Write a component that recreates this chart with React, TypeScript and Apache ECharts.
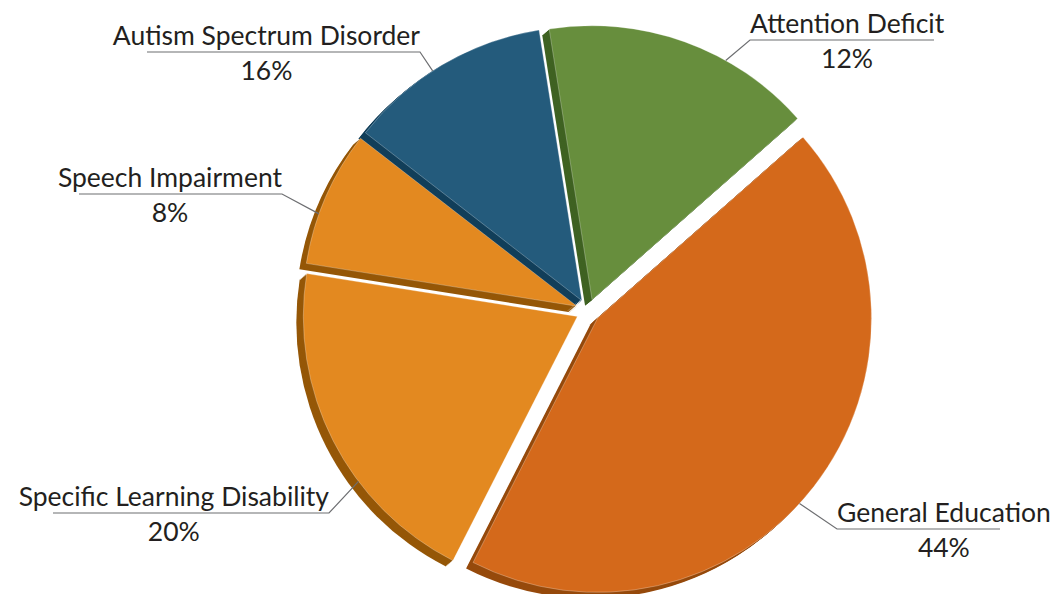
import React, { useEffect, useRef } from 'react';
import * as echarts from 'echarts';

// ---- data (clockwise from the top) ----
const categories = [
  'Attention Deficit',
  'General Education',
  'Specific Learning Disability',
  'Speech Impairment',
  'Autism Spectrum Disorder',
];
// wedge sizes as drawn in the picture (percent of the pie)
const sliceShares = [16, 44, 20, 8, 12];
// percentages printed in the labels
const labelPercents = ['12%', '44%', '20%', '8%', '16%'];

// ---- styles ----
const faceColors = ['#678E3D', '#D4691B', '#E38920', '#E38920', '#245B7C'];
const sideColors = ['#3F6222', '#964A0C', '#955707', '#955707', '#123F5A'];

// ---- layout ----
const CENTER = [588, 311];
const RADIUS = 274;
const EXPLODE = 12;
const START_ANGLE = 99;
const DEPTH = [-7, 6];
const DEPTH_STEPS = 6;
const FONT = 26.5;

// leader guides: angle (deg) on the wedge arc where the leader starts, bend point, end x of the rule
const guides = [
  { at: 60.8, bend: [750, 40], endX: 934 },
  { at: -42.5, bend: [837, 529], endX: 1000 },
  { at: 217, bend: [329, 513], endX: 53 },
  { at: 160.3, bend: [282, 194], endX: 79 },
  { at: 123, bend: [420, 52], endX: 147 },
];

const total = sliceShares.reduce((a, b) => a + b, 0);
const midAngles: number[] = [];
{
  let acc = 0;
  sliceShares.forEach((v) => {
    midAngles.push(START_ANGLE - (360 * (acc + v / 2)) / total);
    acc += v;
  });
}

function pieData(colors: string[] | null, border: boolean, selected: boolean) {
  return categories.map((name, i) => {
    const style: any = { color: colors ? colors[i] : 'rgba(0,0,0,0)' };
    if (border) {
      style.borderColor = 'rgba(255,255,255,0.35)';
      style.borderWidth = 0.8;
    } else {
      style.borderWidth = 0;
    }
    return {
      name,
      value: sliceShares[i],
      selected,
      itemStyle: style,
      select: { itemStyle: style },
    };
  });
}

export default function App() {
  const ref = useRef<HTMLDivElement>(null);

  useEffect(() => {
    if (!ref.current) return;
    const chart = echarts.init(ref.current, undefined, { renderer: 'svg' });

    const base = {
      type: 'pie',
      silent: true,
      selectedMode: 'multiple',
      selectedOffset: EXPLODE,
      startAngle: START_ANGLE,
      clockwise: true,
      radius: RADIUS,
      avoidLabelOverlap: false,
    };

    const shadowSeries: any[] = [];
    for (let k = DEPTH_STEPS; k >= 1; k--) {
      shadowSeries.push({
        ...base,
        z: 1,
        center: [CENTER[0] + (DEPTH[0] * k) / DEPTH_STEPS, CENTER[1] + (DEPTH[1] * k) / DEPTH_STEPS],
        label: { show: false },
        labelLine: { show: false },
        data: pieData(sideColors, false, true),
      });
    }

    const faceSeries = {
      ...base,
      z: 2,
      center: CENTER,
      label: { show: false },
      labelLine: { show: false },
      data: pieData(faceColors, true, true),
    };

    // invisible carrier of the labels and leader lines (not exploded, so positions are global)
    const labelSeries = {
      ...base,
      selectedMode: false,
      z: 3,
      center: CENTER,
      label: {
        show: true,
        position: 'outside',
        formatter: (p: any) => `{n|${p.name}}\n{p|${labelPercents[p.dataIndex]}}`,
        rich: {
          n: { fontFamily: 'Lato', fontSize: FONT, color: '#231F20', lineHeight: 35, align: 'center' },
          p: { fontFamily: 'Lato', fontSize: FONT, color: '#231F20', lineHeight: 35, align: 'center' },
        },
      },
      labelLine: {
        show: true,
        smooth: false,
        lineStyle: { color: '#6D6E71', width: 1.2 },
      },
      labelLayout: (params: any) => {
        const i = params.dataIndex;
        const g = guides[i];
        const mid = (midAngles[i] * Math.PI) / 180;
        const ox = EXPLODE * Math.cos(mid);
        const oy = -EXPLODE * Math.sin(mid);
        const a = (g.at * Math.PI) / 180;
        const sx = CENTER[0] + ox + RADIUS * Math.cos(a);
        const sy = CENTER[1] + oy - RADIUS * Math.sin(a);
        const right = g.endX > g.bend[0];
        return {
          x: g.bend[0],
          y: g.bend[1],
          align: right ? 'left' : 'right',
          verticalAlign: 'middle',
          labelLinePoints: [
            [sx, sy],
            [g.bend[0], g.bend[1]],
            [g.endX, g.bend[1]],
          ],
        };
      },
      data: pieData(null, false, false),
    };

    chart.setOption({
      animation: false,
      backgroundColor: '#ffffff',
      series: [...shadowSeries, faceSeries, labelSeries],
    });

    return () => chart.dispose();
  }, []);

  return (
    <div
      ref={ref}
      style={{ position: 'absolute', left: 0, top: 0, width: 1059, height: 594 }}
    />
  );
}
